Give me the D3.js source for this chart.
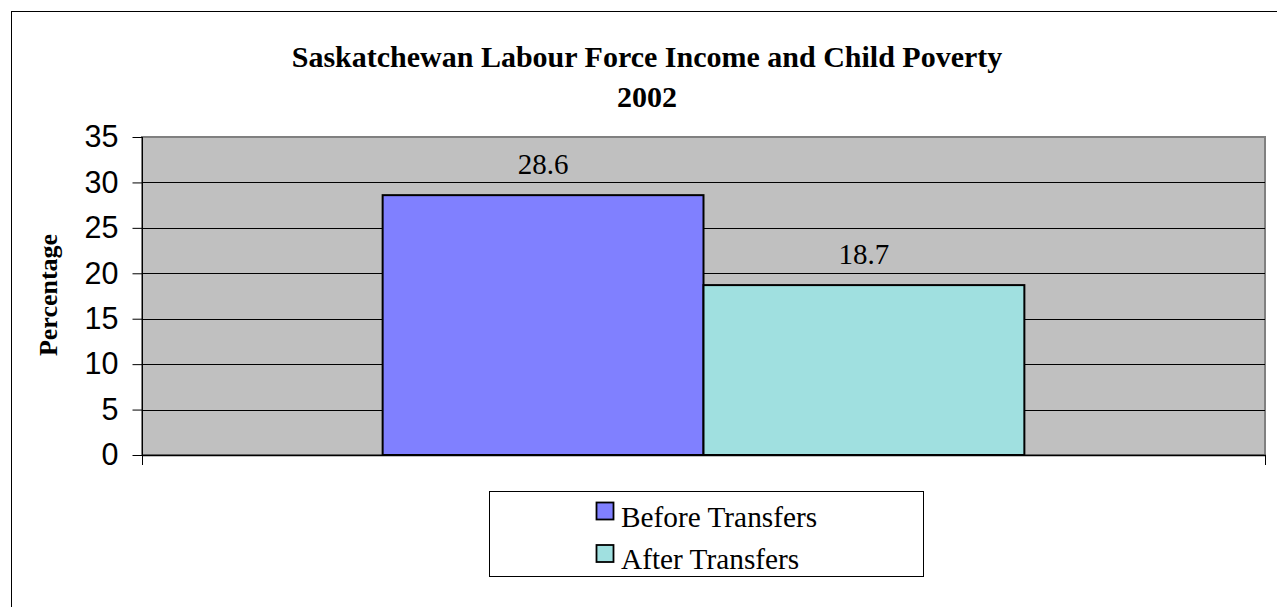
<!DOCTYPE html>
<html>
<head>
<meta charset="utf-8">
<script src="https://cdn.jsdelivr.net/npm/d3@7"></script>
<style>
  html, body { margin: 0; padding: 0; background: #fff; }
  svg { display: block; }
</style>
</head>
<body>
<svg id="chart" width="1277" height="607"></svg>
<script>
// Chart data
const titleLines = ["Saskatchewan Labour Force Income and Child Poverty", "2002"];
const seriesNames = ["Before Transfers", "After Transfers"];
const seriesValues = [28.6, 18.7];
const seriesColors = ["#8080FF", "#A0E0E0"];
const yTicks = [0, 5, 10, 15, 20, 25, 30, 35];
const yLabel = "Percentage";

const svg = d3.select("#chart");
const plot = { left: 142, right: 1265, top: 137, bottom: 455 };

// Outer chart frame
svg.append("rect")
  .attr("x", 11.5).attr("y", 11.5)
  .attr("width", 1400).attr("height", 800)
  .attr("fill", "#fff").attr("stroke", "#000").attr("stroke-width", 1);

const y = d3.scaleLinear().domain([0, 35]).range([plot.bottom, plot.top]);
const x = d3.scaleBand()
  .domain(seriesNames)
  .range([plot.left, plot.right])
  .paddingInner(0)
  .paddingOuter(0.75);

// Plot area background
svg.append("rect")
  .attr("x", plot.left).attr("y", plot.top)
  .attr("width", plot.right - plot.left).attr("height", plot.bottom - plot.top)
  .attr("fill", "#C0C0C0")
  .attr("stroke", "#808080").attr("stroke-width", 2);

// Horizontal gridlines
svg.append("g")
  .selectAll("line")
  .data(yTicks.filter(v => v > 0 && v < 35))
  .join("line")
  .attr("x1", plot.left).attr("x2", plot.right)
  .attr("y1", d => Math.round(y(d)) + 0.5).attr("y2", d => Math.round(y(d)) + 0.5)
  .attr("stroke", "#000").attr("stroke-width", 1);

// Bars
svg.append("g")
  .selectAll("rect")
  .data(seriesValues)
  .join("rect")
  .attr("x", (d, i) => x(seriesNames[i]))
  .attr("y", d => y(d))
  .attr("width", x.bandwidth())
  .attr("height", d => y(0) - y(d))
  .attr("fill", (d, i) => seriesColors[i])
  .attr("stroke", "#000").attr("stroke-width", 2);

// Value labels
svg.append("g")
  .selectAll("text")
  .data(seriesValues)
  .join("text")
  .attr("x", (d, i) => x(seriesNames[i]) + x.bandwidth() / 2)
  .attr("y", d => y(d) - 21)
  .attr("text-anchor", "middle")
  .attr("font-family", "'Liberation Serif', 'Times New Roman', serif")
  .attr("font-size", 29)
  .attr("fill", "#000")
  .text(d => d.toFixed(1));

// Y axis
const yAxis = d3.axisLeft(y)
  .tickValues(yTicks)
  .tickSize(10)
  .tickPadding(14)
  .tickFormat(d3.format("d"));
const gy = svg.append("g")
  .attr("transform", `translate(${plot.left + 0.5},0)`)
  .call(yAxis);
gy.select(".domain").attr("stroke", "#000").attr("d", `M0,${plot.top}V${plot.bottom}`);
gy.selectAll(".tick line").attr("stroke", "#000");
gy.selectAll(".tick text")
  .attr("font-family", "'Liberation Sans', Arial, sans-serif")
  .attr("font-size", 30.5)
  .attr("fill", "#000");

// X axis (category axis with edge ticks)
const gx = svg.append("g");
gx.append("line")
  .attr("x1", plot.left).attr("x2", plot.right + 1)
  .attr("y1", plot.bottom + 0.5).attr("y2", plot.bottom + 0.5)
  .attr("stroke", "#000").attr("stroke-width", 1.5);
gx.selectAll("line.edge")
  .data([plot.left, plot.right])
  .join("line")
  .attr("class", "edge")
  .attr("x1", d => d + 0.5).attr("x2", d => d + 0.5)
  .attr("y1", plot.bottom).attr("y2", plot.bottom + 10)
  .attr("stroke", "#000");

// Title
svg.append("g")
  .selectAll("text")
  .data(titleLines)
  .join("text")
  .attr("x", 647)
  .attr("y", (d, i) => 67 + i * 39.5)
  .attr("text-anchor", "middle")
  .attr("font-family", "'Liberation Serif', 'Times New Roman', serif")
  .attr("font-weight", "bold")
  .attr("font-size", 30)
  .attr("fill", "#000")
  .text(d => d);

// Y axis title
svg.append("text")
  .attr("transform", `translate(57,295) rotate(-90)`)
  .attr("text-anchor", "middle")
  .attr("font-family", "'Liberation Serif', 'Times New Roman', serif")
  .attr("font-weight", "bold")
  .attr("font-size", 26)
  .attr("fill", "#000")
  .text(yLabel);

// Legend
const legend = svg.append("g");
legend.append("rect")
  .attr("x", 489.5).attr("y", 491.5)
  .attr("width", 434).attr("height", 85)
  .attr("fill", "#fff").attr("stroke", "#000").attr("stroke-width", 1);
const items = legend.selectAll("g.item")
  .data(seriesNames)
  .join("g")
  .attr("class", "item")
  .attr("transform", (d, i) => `translate(596,${502 + i * 42.5})`);
items.append("rect")
  .attr("x", 0.5).attr("y", 0.5)
  .attr("width", 17).attr("height", 17)
  .attr("fill", (d, i) => seriesColors[i])
  .attr("stroke", "#000").attr("stroke-width", 1.8);
items.append("text")
  .attr("x", 25).attr("y", 24.5)
  .attr("font-family", "'Liberation Serif', 'Times New Roman', serif")
  .attr("font-size", 29.3)
  .attr("fill", "#000")
  .text(d => d);
</script>
</body>
</html>
